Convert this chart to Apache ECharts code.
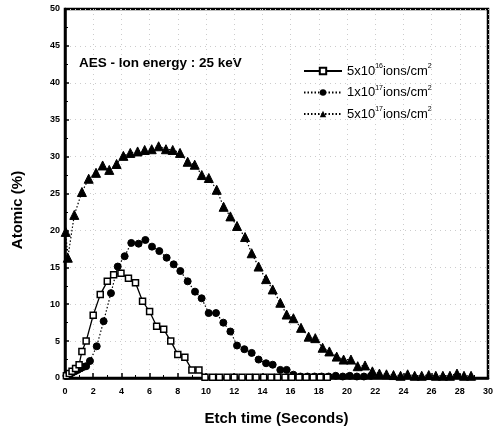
<!DOCTYPE html>
<html><head><meta charset="utf-8">
<script src="https://cdn.jsdelivr.net/npm/echarts@6/dist/echarts.min.js"></script>
<style>html,body{margin:0;padding:0;background:#fff}#c{width:496px;height:434px}</style>
</head><body><div id="c"></div>
<script>
// 5x10^16 ions/cm2 (open squares, solid line)
const xS16 = [0.1,0.3,0.5,0.75,1.0,1.2,1.5,2.0,2.5,3.0,3.45,3.97,4.5,5.0,5.5,6.0,6.5,7.0,7.5,8.0,8.5,9.0,9.5,9.93,10.47,10.95,11.49,12.0,12.55,13.07,13.55,14.09,14.61,15.08,15.6,16.08,16.6,17.1,17.6,18.1,18.6];
const yS16 = [0.3,0.6,0.9,1.3,1.8,3.6,5.0,8.5,11.3,13.1,14.0,14.2,13.5,12.9,10.4,9.0,7.0,6.6,5.0,3.2,2.8,1.1,1.1,0.1,0.1,0.1,0.1,0.1,0.1,0.1,0.1,0.1,0.1,0.1,0.1,0.1,0.1,0.1,0.1,0.1,0.1];
// 1x10^17 ions/cm2 (filled circles, dotted line)
const xS17a = [0.1,0.3,0.5,0.7,0.9,1.1,1.3,1.5,1.77,2.25,2.74,3.26,3.74,4.23,4.7,5.22,5.7,6.17,6.69,7.21,7.71,8.18,8.7,9.22,9.69,10.19,10.71,11.23,11.73,12.2,12.72,13.24,13.73,14.26,14.73,15.27,15.72,16.2,16.7,17.2,17.7,18.2,18.7,19.2,19.7,20.2,20.7,21.2,21.7];
const yS17a = [0.3,0.5,0.7,0.9,1.1,1.3,1.5,1.6,2.3,4.3,7.7,11.5,15.1,16.5,18.3,18.2,18.7,17.8,17.2,16.3,15.4,14.5,13.1,11.7,10.8,8.8,8.8,7.5,6.3,4.4,3.9,3.4,2.5,2.0,1.8,1.1,1.1,0.45,0.2,0.2,0.2,0.2,0.2,0.3,0.2,0.3,0.2,0.2,0.3];
// 5x10^17 ions/cm2 (filled triangles, dotted line)
const xS17b = [0.05,0.2,0.66,1.2,1.68,2.2,2.67,3.14,3.66,4.14,4.63,5.15,5.65,6.15,6.64,7.16,7.64,8.16,8.7,9.2,9.7,10.2,10.76,11.25,11.73,12.2,12.77,13.24,13.73,14.26,14.73,15.27,15.72,16.2,16.74,17.28,17.75,18.27,18.75,19.27,19.76,20.28,20.76,21.28,21.8,22.3,22.8,23.3,23.8,24.3,24.8,25.3,25.8,26.3,26.8,27.3,27.8,28.3,28.8];
const yS17b = [19.8,16.3,22.1,25.2,27.0,27.8,28.8,28.2,29.0,30.1,30.5,30.7,30.9,31.0,31.4,31.0,30.9,30.5,29.3,28.9,27.5,27.1,25.5,23.2,21.9,20.6,19.1,16.9,15.1,13.4,12.0,10.2,8.6,8.1,6.8,5.6,5.4,4.1,3.6,2.9,2.5,2.5,1.6,1.7,0.9,0.6,0.5,0.4,0.3,0.5,0.3,0.3,0.4,0.3,0.3,0.3,0.6,0.3,0.3];
const xTicks = [0,2,4,6,8,10,12,14,16,18,20,22,24,26,28,30];
const yTicks = [0,5,10,15,20,25,30,35,40,45,50];
const seriesNames = ['5x10^16','1x10^17','5x10^17'];
const supers = {'5x10^16':['5x10','16'],'1x10^17':['1x10','17'],'5x10^17':['5x10','17']};

const zip = (xs, ys) => xs.map((x, i) => [x, ys[i]]);
const FONT = 'Liberation Sans, Arial, sans-serif';
const chart = echarts.init(document.getElementById('c'));
chart.setOption({
  animation: false,
  backgroundColor: '#fff',
  grid: {left: 65, right: 7, top: 9, bottom: 56, show: true, borderColor: '#000', borderWidth: 2.5},
  xAxis: {
    type: 'value', min: xTicks[0], max: xTicks[xTicks.length-1], interval: 2,
    axisLine: {lineStyle: {color: '#000', width: 2.5}},
    axisTick: {inside: true, length: 5, lineStyle: {color: '#000', width: 1.5}},
    minorTick: {show: true, splitNumber: 2, length: 3, lineStyle: {color: '#000'}},
    axisLabel: {color: '#000', fontFamily: FONT, fontWeight: 'bold', fontSize: 9, margin: 9},
    splitLine: {show: true, lineStyle: {color: '#ccc', type: [1, 4], width: 1}},
    name: 'Etch time (Seconds)', nameLocation: 'middle', nameGap: 33,
    nameTextStyle: {color: '#000', fontFamily: FONT, fontWeight: 'bold', fontSize: 15}
  },
  yAxis: {
    type: 'value', min: yTicks[0], max: yTicks[yTicks.length-1], interval: 5,
    axisLine: {lineStyle: {color: '#000', width: 2.5}},
    axisTick: {inside: true, length: 4, lineStyle: {color: '#000', width: 1.5}},
    minorTick: {show: true, splitNumber: 2, length: 3, lineStyle: {color: '#000'}},
    axisLabel: {color: '#000', fontFamily: FONT, fontWeight: 'bold', fontSize: 9, margin: 5},
    splitLine: {show: true, lineStyle: {color: '#ccc', type: [1, 4], width: 1}}
  },
  legend: {
    orient: 'vertical', left: 298, top: 58, itemGap: 7, itemWidth: 38, itemHeight: 8,
    data: seriesNames,
    formatter: n => '{a|' + supers[n][0] + '}{s|' + supers[n][1] + '}{a|ions/cm}{s|2}',
    textStyle: {
      color: '#000', fontFamily: FONT, fontSize: 13,
      rich: {
        a: {fontFamily: FONT, fontSize: 13, color: '#000'},
        s: {fontFamily: FONT, fontSize: 7, color: '#000', verticalAlign: 'top', padding: [0, 0, 9, 0]}
      }
    }
  },
  graphic: [
    {type: 'text', left: 79, top: 56, style: {text: 'AES - Ion energy : 25 keV', font: 'bold 13.5px ' + FONT, fill: '#000'}},
    {type: 'text', x: 18, y: 210, rotation: Math.PI/2, style: {text: 'Atomic (%)', font: 'bold 15px ' + FONT, fill: '#000', align: 'center', verticalAlign: 'middle'}}
  ],
  series: [
    {name: seriesNames[0], type: 'line', data: zip(xS16, yS16), symbol: 'rect', symbolSize: 6,
     itemStyle: {color: '#fff', borderColor: '#000', borderWidth: 1.5},
     lineStyle: {color: '#000', width: 1.3, type: 'solid'}, z: 3},
    {name: seriesNames[1], type: 'line', data: zip(xS17a, yS17a), symbol: 'circle', symbolSize: 7,
     itemStyle: {color: '#000', borderColor: '#000'},
     lineStyle: {color: '#000', width: 1.2, type: [1.5, 2]}, z: 2},
    {name: seriesNames[2], type: 'line', data: zip(xS17b, yS17b), symbol: 'triangle', symbolSize: 9,
     itemStyle: {color: '#000', borderColor: '#000'},
     lineStyle: {color: '#000', width: 1.2, type: [1.5, 2]}, z: 2}
  ]
});
</script></body></html>
